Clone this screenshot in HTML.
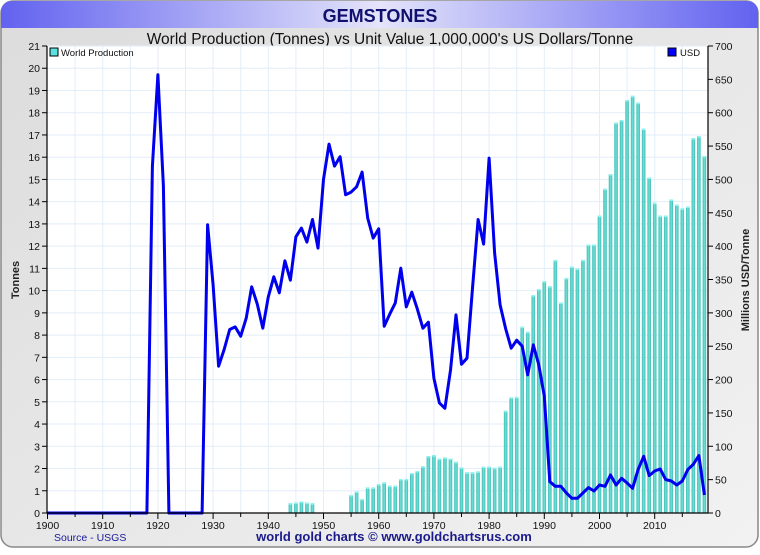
<!DOCTYPE html>
<html><head><meta charset="utf-8"><style>
body{margin:0;width:760px;height:550px;overflow:hidden;background:#fff;font-family:"Liberation Sans",Arial,sans-serif}
</style></head><body>
<svg id="chart" width="760" height="550" xmlns="http://www.w3.org/2000/svg" font-family="Liberation Sans, Arial, sans-serif">
<defs>
<linearGradient id="hdr" x1="0" x2="1" y1="0" y2="0"><stop offset="0" stop-color="#6262f0"/><stop offset="0.5" stop-color="#e4e4fa"/><stop offset="1" stop-color="#6262f0"/></linearGradient>
<linearGradient id="bodyg" x1="0" x2="1" y1="0" y2="1"><stop offset="0" stop-color="#dcdcdc"/><stop offset="1" stop-color="#f2f2f2"/></linearGradient>
<linearGradient id="barg" x1="0" x2="1"><stop offset="0" stop-color="#3fbcb4"/><stop offset="0.5" stop-color="#6ee0d8"/><stop offset="1" stop-color="#3fbcb4"/></linearGradient>
</defs>
<rect x="1" y="1" width="757" height="546" rx="12" fill="url(#bodyg)" stroke="#888" stroke-width="1.5"/>
<path d="M1,28 L1,13 Q1,1 13,1 L746,1 Q758,1 758,13 L758,28 Z" fill="url(#hdr)"/>
<text x="380" y="22" text-anchor="middle" font-size="18" font-weight="bold" fill="#10106e">GEMSTONES</text>
<text x="390" y="44" text-anchor="middle" font-size="15.5" fill="#111">World Production (Tonnes) vs Unit Value 1,000,000's US Dollars/Tonne</text>
<rect x="47" y="46" width="661" height="467" fill="#fff"/>
<g id="grid"></g><g id="bars"></g><g id="line"></g><g id="axes"></g>
<rect x="50" y="48" width="8" height="8" fill="#5ce0e0" stroke="#000" stroke-width="1"/>
<text x="61" y="56" font-size="9.5" fill="#111">World Production</text>
<rect x="668" y="48" width="8" height="8" fill="#0000ff" stroke="#000" stroke-width="1"/>
<text x="680" y="56" font-size="9.5" fill="#111">USD</text>
<text transform="translate(19,280) rotate(-90)" text-anchor="middle" font-size="11" font-weight="bold" fill="#222">Tonnes</text>
<text transform="translate(749,280) rotate(-90)" text-anchor="middle" font-size="11" font-weight="bold" fill="#222">Millions USD/Tonne</text>
<text x="54" y="541" font-size="10.5" fill="#1a1a9a">Source - USGS</text>
<text x="394" y="541" text-anchor="middle" font-size="13" font-weight="bold" fill="#1a1a8a">world gold charts © www.goldchartsrus.com</text>
</svg>
<script>
const barYears=[1944,1945,1946,1947,1948,1955,1956,1957,1958,1959,1960,1961,1962,1963,1964,1965,1966,1967,1968,1969,1970,1971,1972,1973,1974,1975,1976,1977,1978,1979,1980,1981,1982,1983,1984,1985,1986,1987,1988,1989,1990,1991,1992,1993,1994,1995,1996,1997,1998,1999,2000,2001,2002,2003,2004,2005,2006,2007,2008,2009,2010,2011,2012,2013,2014,2015,2016,2017,2018,2019];
const tonnes=[0.44,0.47,0.52,0.47,0.44,0.81,0.97,0.63,1.15,1.15,1.3,1.38,1.23,1.23,1.53,1.53,1.8,1.89,2.1,2.56,2.6,2.45,2.5,2.45,2.3,2.05,1.83,1.83,1.87,2.08,2.08,2.03,2.08,4.6,5.2,5.22,8.38,8.15,9.8,10.07,10.43,10.2,11.38,9.46,10.57,11.08,10.99,11.38,12.07,12.07,13.37,14.58,15.24,17.55,17.67,18.57,18.76,18.45,17.28,15.08,13.95,13.37,13.37,14.1,13.87,13.7,13.78,16.86,16.95,16.05];
const usdYears=[1900,1918,1919,1920,1921,1922,1928,1929,1930,1931,1932,1933,1934,1935,1936,1937,1938,1939,1940,1941,1942,1943,1944,1945,1946,1947,1948,1949,1950,1951,1952,1953,1954,1955,1956,1957,1958,1959,1960,1961,1962,1963,1964,1965,1966,1967,1968,1969,1970,1971,1972,1973,1974,1975,1976,1977,1978,1979,1980,1981,1982,1983,1984,1985,1986,1987,1988,1989,1990,1991,1992,1993,1994,1995,1996,1997,1998,1999,2000,2001,2002,2003,2004,2005,2006,2007,2008,2009,2010,2011,2012,2013,2014,2015,2016,2017,2018,2019];
const usd=[0,0,520,657,490,0,0,432,342,220,245,275,279,265,292,339,313,277,324,354,330,378,349,414,427,406,440,397,500,553,520,534,477,481,489,511,442,412,426,280,298,315,367,309,331,306,277,286,202,165,157,214,297,223,232,337,440,403,532,390,312,276,247,259,250,207,252,222,175,47,40,40,30,22,22,30,38,33,42,40,57,42,52,45,37,65,85,56,63,66,50,48,42,48,65,73,86,27];
const leftTicks=[0,1,2,3,4,5,6,7,8,9,10,11,12,13,14,15,16,17,18,19,20,21];
const rightTicks=[0,50,100,150,200,250,300,350,400,450,500,550,600,650,700];
const xTicks=[1900,1910,1920,1930,1940,1950,1960,1970,1980,1990,2000,2010];
const X0=47.5,X1=708,Y0=513,Y1=46,PXY=5.52;
const ns="http://www.w3.org/2000/svg";
function xs(yr){return X0+(yr-1900)*PXY;}
function yl(t){return Y0-(t/21)*(Y0-Y1);}
function yr(v){return Y0-(v/700)*(Y0-Y1);}
function mk(tag,attrs,parent){const e=document.createElementNS(ns,tag);for(const k in attrs)e.setAttribute(k,attrs[k]);parent.appendChild(e);return e;}
const grid=document.getElementById('grid'),bars=document.getElementById('bars'),lineG=document.getElementById('line'),axes=document.getElementById('axes');
for(let t=1;t<=21;t++){const g=mk('line',{x1:47,x2:708,y1:yl(t),y2:yl(t),stroke:'#e2eef8','stroke-width':1},grid);

}
for(let y=1905;y<2020;y+=5){const g=mk('line',{x1:xs(y),x2:xs(y),y1:46,y2:513,stroke:'#e2eef8','stroke-width':1},grid);

}
barYears.forEach((yv,i)=>{const top=yl(tonnes[i]);const r=mk('rect',{x:xs(yv)-1.8,y:top,width:3.6,height:Y0-top,fill:'url(#barg)'},bars);


const c=mk('rect',{x:xs(yv)-1.8,y:top,width:3.6,height:1.5,fill:'#8ff4f0'},bars);

});
const pts=usdYears.map((yv,i)=>xs(yv).toFixed(1)+','+yr(usd[i]).toFixed(1)).join(' ');
const pl=mk('polyline',{points:pts,fill:'none',stroke:'#0000ee','stroke-width':3,'stroke-linejoin':'round'},lineG);


const ax=mk('path',{d:'M47,46 L47,513 L708,513 L708,46',fill:'none',stroke:'#000','stroke-width':1.2},axes);


leftTicks.forEach(t=>{const y=yl(t);mk('line',{x1:42,x2:47,y1:y,y2:y,stroke:'#000'},axes);
const tx=mk('text',{x:40,y:y+4,'text-anchor':'end','font-size':10.5,fill:'#111'},axes);tx.textContent=t;

});
rightTicks.forEach(v=>{const y=yr(v);mk('line',{x1:708,x2:713,y1:y,y2:y,stroke:'#000'},axes);
const tx=mk('text',{x:715,y:y+4,'font-size':10.5,fill:'#111'},axes);tx.textContent=v;

});
for(let y=1900;y<=2019;y+=5){const big=y%10===0;mk('line',{x1:xs(y),x2:xs(y),y1:513,y2:big?519:517,stroke:'#000'},axes);}
xTicks.forEach(y=>{const tx=mk('text',{x:xs(y),y:529,'text-anchor':'middle','font-size':10.5,fill:'#111'},axes);tx.textContent=y;

});
</script>
</body></html>
